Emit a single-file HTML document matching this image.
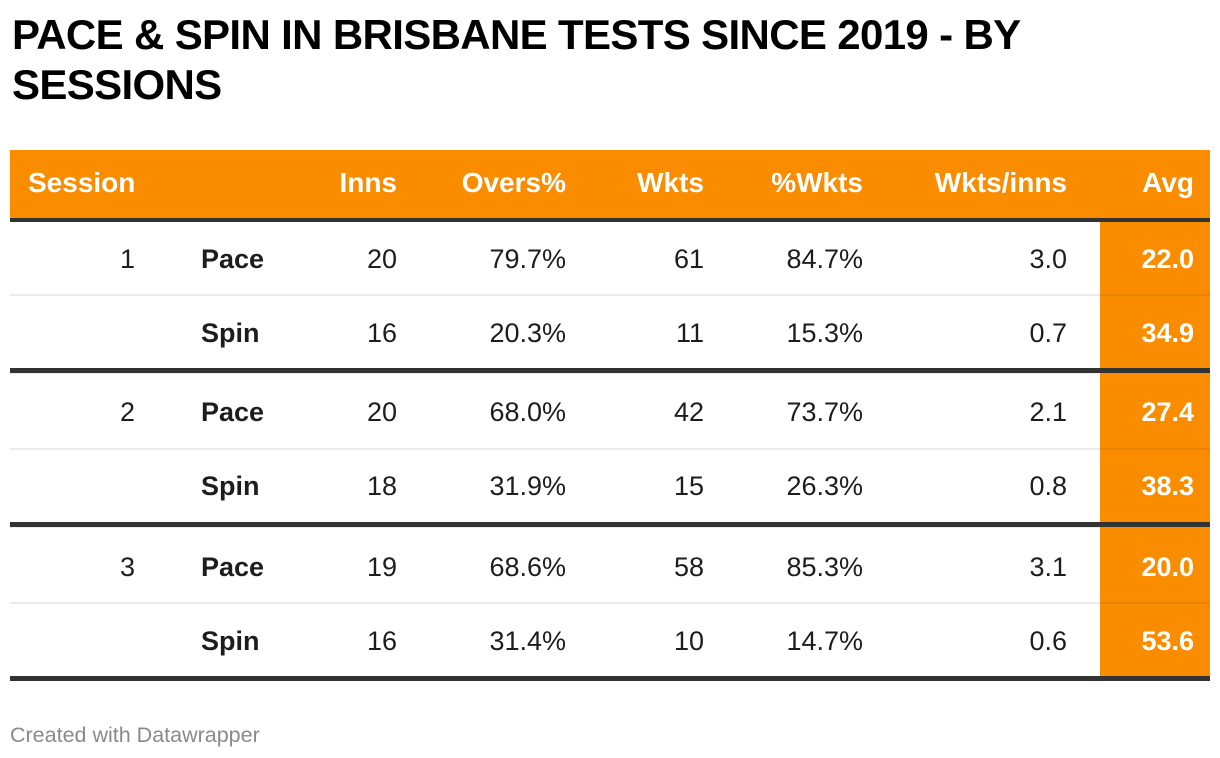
<!DOCTYPE html>
<html>
<head>
<meta charset="utf-8">
<style>
  html, body { margin:0; padding:0; background:#fff; }
  body { width:1220px; height:758px; position:relative; overflow:hidden; font-family:"Liberation Sans", Arial, sans-serif; }
  .abs { position:absolute; }
  .title { left:12px; top:10px; font-size:42px; line-height:50px; font-weight:bold; color:#000; letter-spacing:-0.65px; white-space:nowrap; }
  .hdr { position:absolute; left:10px; top:150px; width:1200px; height:68px; background:#fa8c00; }
  .dark { position:absolute; left:10px; width:1200px; background:#333; }
  .light { position:absolute; left:10px; width:1090px; height:2px; background:#ebebeb; }
  .lightA { position:absolute; left:1100px; width:110px; height:2px; background:#e98200; }
  .avgcol { position:absolute; left:1100px; top:222px; width:110px; height:454px; background:#fa8c00; }
  .h { position:absolute; top:168px; font-size:28px; line-height:30px; font-weight:bold; color:#fff; white-space:nowrap; }
  .c { position:absolute; font-size:27px; line-height:30px; color:#1d1d1d; white-space:nowrap; text-align:right; left:0; }
  .b { font-weight:bold; text-align:left; }
  .w { color:#fff; font-weight:bold; }
  .foot { left:10px; top:723px; font-size:21.5px; line-height:24px; color:#8a8a8a; white-space:nowrap; }
</style>
</head>
<body>
<div class="abs title">PACE &amp; SPIN IN BRISBANE TESTS SINCE 2019 - BY<br>SESSIONS</div>

<div class="hdr"></div>
<div class="avgcol"></div>

<div class="h" style="left:28px;">Session</div>
<div class="h" style="left:0;width:397px;text-align:right;">Inns</div>
<div class="h" style="left:0;width:566px;text-align:right;">Overs%</div>
<div class="h" style="left:0;width:704px;text-align:right;">Wkts</div>
<div class="h" style="left:0;width:863px;text-align:right;">%Wkts</div>
<div class="h" style="left:0;width:1067px;text-align:right;">Wkts/inns</div>
<div class="h" style="left:0;width:1194px;text-align:right;">Avg</div>

<!-- lines -->
<div class="dark" style="top:218px;height:4px;"></div>
<div class="light" style="top:294px;"></div><div class="lightA" style="top:294px;"></div>
<div class="dark" style="top:368px;height:5px;"></div>
<div class="light" style="top:373px;height:1px;"></div>
<div class="light" style="top:448px;"></div><div class="lightA" style="top:448px;"></div>
<div class="dark" style="top:522px;height:5px;"></div>
<div class="light" style="top:527px;height:1px;"></div>
<div class="light" style="top:602px;"></div><div class="lightA" style="top:602px;"></div>
<div class="dark" style="top:676px;height:5px;"></div>

<!-- Row 1: baseline 268.3 -> top 244 -->
<div class="c" style="top:244px;width:135px;">1</div>
<div class="c b" style="top:244px;left:201px;">Pace</div>
<div class="c" style="top:244px;width:397px;">20</div>
<div class="c" style="top:244px;width:566px;">79.7%</div>
<div class="c" style="top:244px;width:704px;">61</div>
<div class="c" style="top:244px;width:863px;">84.7%</div>
<div class="c" style="top:244px;width:1067px;">3.0</div>
<div class="c w" style="top:244px;width:1194px;">22.0</div>

<!-- Row 2: baseline 342 -> top 318 -->
<div class="c b" style="top:318px;left:201px;">Spin</div>
<div class="c" style="top:318px;width:397px;">16</div>
<div class="c" style="top:318px;width:566px;">20.3%</div>
<div class="c" style="top:318px;width:704px;">11</div>
<div class="c" style="top:318px;width:863px;">15.3%</div>
<div class="c" style="top:318px;width:1067px;">0.7</div>
<div class="c w" style="top:318px;width:1194px;">34.9</div>

<!-- Row 3: baseline 421.7 -> top 397 -->
<div class="c" style="top:397px;width:135px;">2</div>
<div class="c b" style="top:397px;left:201px;">Pace</div>
<div class="c" style="top:397px;width:397px;">20</div>
<div class="c" style="top:397px;width:566px;">68.0%</div>
<div class="c" style="top:397px;width:704px;">42</div>
<div class="c" style="top:397px;width:863px;">73.7%</div>
<div class="c" style="top:397px;width:1067px;">2.1</div>
<div class="c w" style="top:397px;width:1194px;">27.4</div>

<!-- Row 4: baseline 495.5 -> top 471 -->
<div class="c b" style="top:471px;left:201px;">Spin</div>
<div class="c" style="top:471px;width:397px;">18</div>
<div class="c" style="top:471px;width:566px;">31.9%</div>
<div class="c" style="top:471px;width:704px;">15</div>
<div class="c" style="top:471px;width:863px;">26.3%</div>
<div class="c" style="top:471px;width:1067px;">0.8</div>
<div class="c w" style="top:471px;width:1194px;">38.3</div>

<!-- Row 5: baseline 576 -> top 551.5 -->
<div class="c" style="top:551.5px;width:135px;">3</div>
<div class="c b" style="top:551.5px;left:201px;">Pace</div>
<div class="c" style="top:551.5px;width:397px;">19</div>
<div class="c" style="top:551.5px;width:566px;">68.6%</div>
<div class="c" style="top:551.5px;width:704px;">58</div>
<div class="c" style="top:551.5px;width:863px;">85.3%</div>
<div class="c" style="top:551.5px;width:1067px;">3.1</div>
<div class="c w" style="top:551.5px;width:1194px;">20.0</div>

<!-- Row 6: baseline 650 -> top 625.5 -->
<div class="c b" style="top:625.5px;left:201px;">Spin</div>
<div class="c" style="top:625.5px;width:397px;">16</div>
<div class="c" style="top:625.5px;width:566px;">31.4%</div>
<div class="c" style="top:625.5px;width:704px;">10</div>
<div class="c" style="top:625.5px;width:863px;">14.7%</div>
<div class="c" style="top:625.5px;width:1067px;">0.6</div>
<div class="c w" style="top:625.5px;width:1194px;">53.6</div>

<div class="abs foot">Created with Datawrapper</div>
</body>
</html>
